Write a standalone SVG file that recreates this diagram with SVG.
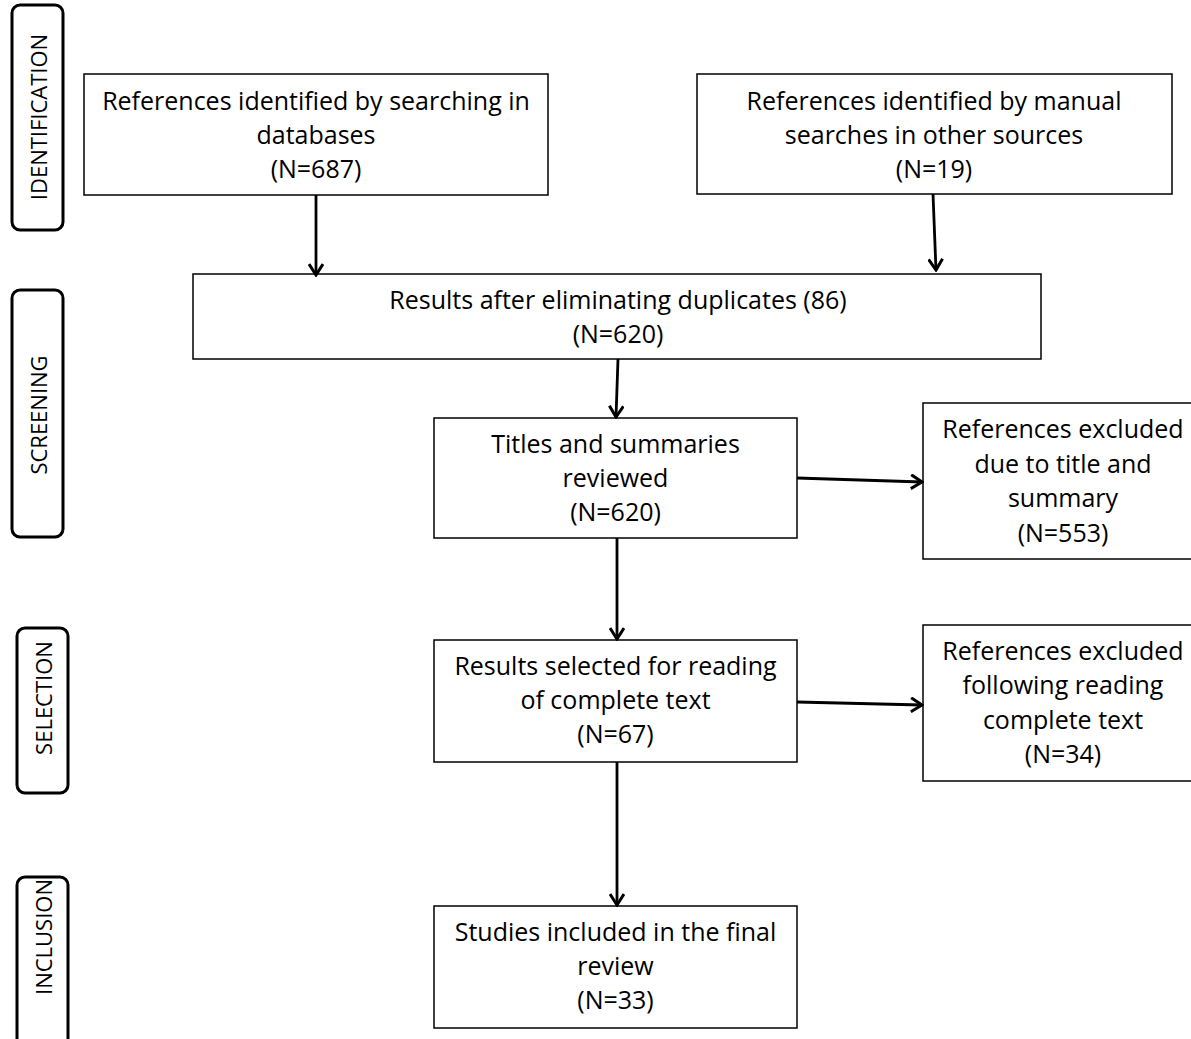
<svg xmlns="http://www.w3.org/2000/svg" width="1191" height="1039" viewBox="0 0 1191 1039">
<style>
.box{fill:#fff;stroke:#000;stroke-width:1.5}
.side{fill:#fff;stroke:#000;stroke-width:3}
.t{font-family:"Open Sans","Noto Sans",sans-serif;font-size:25px;fill:#000;text-anchor:middle}
.s{font-family:"Open Sans","Noto Sans",sans-serif;font-size:22px;fill:#000;text-anchor:middle}
.c{stroke:#000;stroke-width:2.8;fill:none}
</style>
<defs>
<marker id="ah" viewBox="0 0 16 16" refX="14" refY="8" markerWidth="16" markerHeight="16" markerUnits="userSpaceOnUse" orient="auto">
<path d="M3,1 L14,8 L3,15" fill="none" stroke="#000" stroke-width="3"/>
</marker>
</defs>
<rect width="1191" height="1039" fill="#fff"/>
<g id="side-identification"><rect class="side" x="12" y="5" width="51" height="225" rx="8"/><text class="s" transform="translate(47,117) rotate(-90)">IDENTIFICATION</text></g>
<g id="side-screening"><rect class="side" x="12" y="290" width="51" height="247" rx="8"/><text class="s" transform="translate(47,415) rotate(-90)">SCREENING</text></g>
<g id="side-selection"><rect class="side" x="17" y="628" width="51" height="165" rx="8"/><text class="s" transform="translate(52,698) rotate(-90)">SELECTION</text></g>
<g id="side-inclusion"><rect class="side" x="17" y="877" width="51" height="180" rx="8"/><text class="s" transform="translate(52,937) rotate(-90)">INCLUSION</text></g>

<g id="n-databases"><rect class="box" x="84" y="74" width="464" height="121"/>
<text class="t" x="316" y="110">References identified by searching in</text>
<text class="t" x="316" y="144">databases</text>
<text class="t" x="316" y="178">(N=687)</text></g>
<g id="n-manual"><rect class="box" x="697" y="74" width="475" height="120"/>
<text class="t" x="934" y="110">References identified by manual</text>
<text class="t" x="934" y="144">searches in other sources</text>
<text class="t" x="934" y="178">(N=19)</text></g>
<g id="n-duplicates"><rect class="box" x="193" y="274" width="848" height="85"/>
<text class="t" x="618" y="309">Results after eliminating duplicates (86)</text>
<text class="t" x="618" y="343">(N=620)</text></g>
<g id="n-titles"><rect class="box" x="434" y="418" width="363" height="120"/>
<text class="t" x="615.5" y="453">Titles and summaries</text>
<text class="t" x="615.5" y="487">reviewed</text>
<text class="t" x="615.5" y="521">(N=620)</text></g>
<g id="n-excl1"><rect class="box" x="923" y="403" width="290" height="156"/>
<text class="t" x="1063" y="438">References excluded</text>
<text class="t" x="1063" y="473">due to title and</text>
<text class="t" x="1063" y="507">summary</text>
<text class="t" x="1063" y="542">(N=553)</text></g>
<g id="n-fulltext"><rect class="box" x="434" y="640" width="363" height="122"/>
<text class="t" x="615.5" y="675">Results selected for reading</text>
<text class="t" x="615.5" y="709">of complete text</text>
<text class="t" x="615.5" y="743">(N=67)</text></g>
<g id="n-excl2"><rect class="box" x="923" y="625" width="290" height="156"/>
<text class="t" x="1063" y="660">References excluded</text>
<text class="t" x="1063" y="694">following reading</text>
<text class="t" x="1063" y="729">complete text</text>
<text class="t" x="1063" y="763">(N=34)</text></g>
<g id="n-included"><rect class="box" x="434" y="906" width="363" height="122"/>
<text class="t" x="615.5" y="941">Studies included in the final</text>
<text class="t" x="615.5" y="975">review</text>
<text class="t" x="615.5" y="1009">(N=33)</text></g>

<g id="connectors">
<line class="c" x1="316" y1="195" x2="316" y2="275" marker-end="url(#ah)"/>
<line class="c" x1="933" y1="194" x2="936" y2="270" marker-end="url(#ah)"/>
<line class="c" x1="618" y1="359" x2="616" y2="417" marker-end="url(#ah)"/>
<line class="c" x1="797" y1="478" x2="922" y2="482" marker-end="url(#ah)"/>
<line class="c" x1="617" y1="538" x2="617" y2="639" marker-end="url(#ah)"/>
<line class="c" x1="797" y1="702" x2="922" y2="705" marker-end="url(#ah)"/>
<line class="c" x1="617" y1="762" x2="617" y2="905" marker-end="url(#ah)"/>
</g>
</svg>
